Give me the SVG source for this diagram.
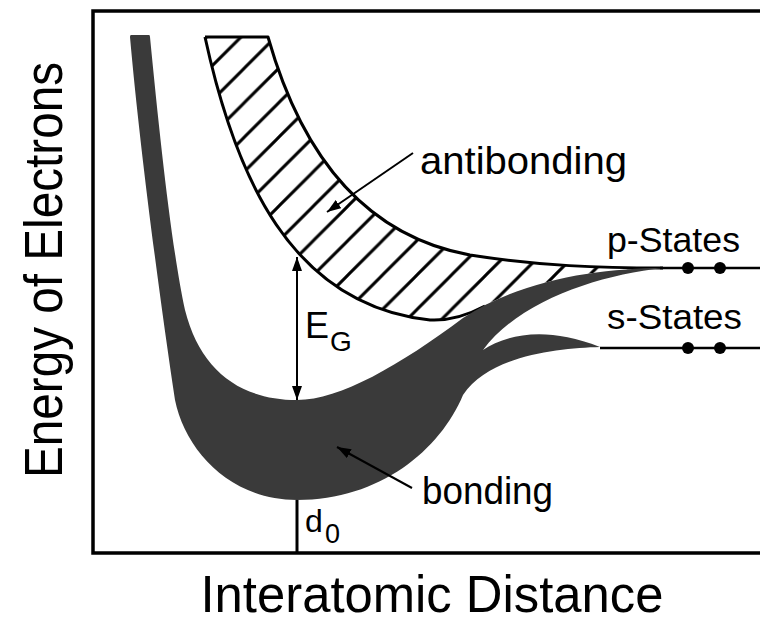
<svg xmlns="http://www.w3.org/2000/svg" width="760" height="617" viewBox="0 0 760 617">
<style>
  .lbl { font-family: "Liberation Sans", Arial, sans-serif; fill: #000; }
  .ln { fill: none; stroke: #000; stroke-width: 3; stroke-linejoin: round; }
  .conn { fill: none; stroke: #000; stroke-width: 2; }
  .dark { fill: #3a3a3a; }
</style>
<defs>
  <pattern id="hatch" patternUnits="userSpaceOnUse" width="34.5" height="34.5" patternTransform="translate(2,0)">
    <path d="M0,34.5 L34.5,0 M-3,3 L3,-3 M31.5,37.5 L37.5,31.5" stroke="#000" stroke-width="3" fill="none"/>
  </pattern>
  <marker id="ah" viewBox="0 0 14 10" refX="14" refY="5" markerUnits="userSpaceOnUse" markerWidth="14" markerHeight="10" orient="auto-start-reverse">
    <path d="M0,0 L14,5 L0,10 z" fill="#000"/>
  </marker>
</defs>
<rect width="760" height="617" fill="#fff"/>

<g id="frame">
  <path d="M762,11 H93 V553 H762" fill="none" stroke="#000" stroke-width="3.5"/>
</g>

<g id="antibonding-band">
  <path d="M205,37 L268,37 C300,150 360,235 470,255 C540,266 600,268 663,268 C600,268 520,280 463,318 L430,320 C290,305 235,175 205,37 Z" fill="url(#hatch)"/>
  <path class="ln" d="M205,37 L268,37 C300,150 360,235 470,255 C540,266 600,268 663,268"/>
  <path class="ln" d="M205,37 C235,175 290,305 430,320 C450,321 470,314 485,306"/>
</g>

<g id="bonding-band">
  <path class="dark" d="M131,35 L149,35 Q150,35 150,37 C160,140 172,250 185,310 C200,370 240,400 297,400 C340,400 400,365 463,318 C520,280 600,268 663,268 C600,275 520,300 483,350 C505,335 545,325 600,347 C560,348 490,355 463,395 C440,450 380,500 297,500 C230,500 185,450 175,400 C160,300 140,150 130,37 Q130,35 131,35 Z"/>
</g>

<g id="p-states">
  <line x1="660" y1="268" x2="760" y2="268" stroke="#000" stroke-width="2.5"/>
  <circle cx="688" cy="268" r="6"/>
  <circle cx="720" cy="268" r="6"/>
  <text class="lbl" x="607" y="252" font-size="35" textLength="133" lengthAdjust="spacingAndGlyphs">p-States</text>
</g>

<g id="s-states">
  <line x1="600" y1="348" x2="760" y2="348" stroke="#000" stroke-width="2.5"/>
  <circle cx="688" cy="348" r="6"/>
  <circle cx="720" cy="348" r="6"/>
  <text class="lbl" x="607" y="329" font-size="35" textLength="135" lengthAdjust="spacingAndGlyphs">s-States</text>
</g>

<g id="d0">
  <line x1="297" y1="500" x2="297" y2="553" stroke="#000" stroke-width="3"/>
  <text class="lbl" x="305" y="532" font-size="32">d</text>
  <text class="lbl" x="325" y="543" font-size="27">0</text>
</g>

<g id="eg">
  <text class="lbl" x="305" y="338" font-size="36">E</text>
  <text class="lbl" x="330" y="351" font-size="28">G</text>
</g>

<g id="labels">
  <text class="lbl" x="420" y="174" font-size="39" textLength="207" lengthAdjust="spacingAndGlyphs">antibonding</text>
  <text class="lbl" x="422" y="504" font-size="38" textLength="131" lengthAdjust="spacingAndGlyphs">bonding</text>
  <text class="lbl" x="432" y="612" font-size="52" text-anchor="middle" textLength="463" lengthAdjust="spacingAndGlyphs">Interatomic Distance</text>
  <text class="lbl" transform="translate(62,270) rotate(-90)" x="0" y="0" font-size="54" text-anchor="middle" textLength="416" lengthAdjust="spacingAndGlyphs">Energy of Electrons</text>
</g>

<g id="connectors">
  <line class="conn" x1="297" y1="257" x2="297" y2="400" marker-start="url(#ah)" marker-end="url(#ah)"/>
  <line class="conn" x1="413" y1="153" x2="327" y2="212" marker-end="url(#ah)"/>
  <line class="conn" x1="412" y1="488" x2="337" y2="447" marker-end="url(#ah)"/>
</g>
</svg>
